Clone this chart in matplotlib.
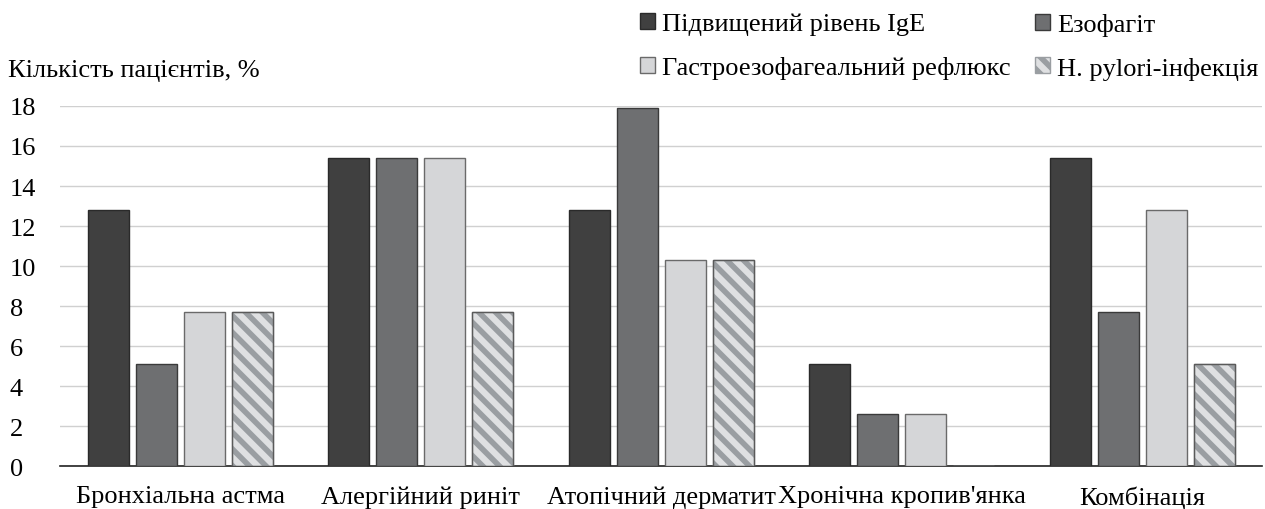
import matplotlib
matplotlib.use("Agg")
import matplotlib.pyplot as plt
import numpy as np

categories = ["Бронхіальна астма", "Алергійний риніт", "Атопічний дерматит",
              "Хронічна кропив'янка", "Комбінація"]
series_names = ["Підвищений рівень IgE", "Езофагіт",
                "Гастроезофагеальний рефлюкс", "H. pylori-інфекція"]
ige = [12.8, 15.4, 12.8, 5.1, 15.4]
ezofagit = [5.1, 15.4, 17.9, 2.6, 7.7]
gerd = [7.7, 15.4, 10.3, 2.6, 12.8]
hpylori = [7.7, 7.7, 10.3, 0.0, 5.1]
yticks = [0, 2, 4, 6, 8, 10, 12, 14, 16, 18]

plt.rcParams['font.family'] = ['Liberation Serif', 'DejaVu Serif']
plt.rcParams['hatch.linewidth'] = 4.0
FS = 19

fig = plt.figure(figsize=(12.65, 5.1), dpi=100)
ax = fig.add_axes([0.0474, 0.0843, 0.9506, 0.7059])

x = np.arange(len(categories))
w = 0.17
offs = [-0.3, -0.1, 0.1, 0.3]
styles = [
    dict(color="#404040", edgecolor="#2a2a2a"),
    dict(color="#6e6f71", edgecolor="#3a3a3a"),
    dict(color="#d5d6d8", edgecolor="#6a6a6a"),
    dict(facecolor="#dfe0e2", edgecolor="#9a9ea2", hatch="\\\\"),
]
handles = []
for vals, off, st, name in zip([ige, ezofagit, gerd, hpylori], offs, styles, series_names):
    b = ax.bar(x + off, vals, w, label=name, linewidth=1.0, zorder=3, **st)
    handles.append(b)
for rect, v in zip(handles[3], hpylori):
    if v > 0:
        ax.add_patch(plt.Rectangle(rect.get_xy(), rect.get_width(), rect.get_height(),
                                   fill=False, edgecolor="#5a5a5a", linewidth=1.0, zorder=4))

ax.set_xlim(-0.5, 4.5)
ax.set_ylim(0, 18)
ax.set_yticks(yticks)
ax.set_xticks(x)
ax.set_xticklabels(categories, fontsize=FS)
ax.tick_params(axis='y', labelsize=FS, length=0, pad=36)
ax.tick_params(axis='x', length=0, pad=14)
for lbl in ax.get_yticklabels():
    lbl.set_horizontalalignment('left')
ax.grid(axis='y', color="#d0d0d0", linewidth=1.0, zorder=0)
for s in ['top', 'right', 'left']:
    ax.spines[s].set_visible(False)
ax.spines['bottom'].set_color('#222222')
ax.spines['bottom'].set_linewidth(1.2)

fig.text(8/1265, 1 - 71/510, "Кількість пацієнтів, %", fontsize=FS, va='center', ha='left')

legkw = dict(ncol=1, loc='upper left', frameon=False, fontsize=FS,
             handlelength=0.55, handleheight=0.55, handletextpad=0.3,
             labelspacing=0.78, borderaxespad=0, borderpad=0)
leg1 = fig.legend(handles=[handles[0], handles[2]], labels=[series_names[0], series_names[2]],
                  bbox_to_anchor=(640/1265, 1 - 14/510), **legkw)
leg2 = fig.legend(handles=[handles[1], handles[3]], labels=[series_names[1], series_names[3]],
                  bbox_to_anchor=(1035/1265, 1 - 14/510), **legkw)

fig.savefig("out.png", dpi=100)
